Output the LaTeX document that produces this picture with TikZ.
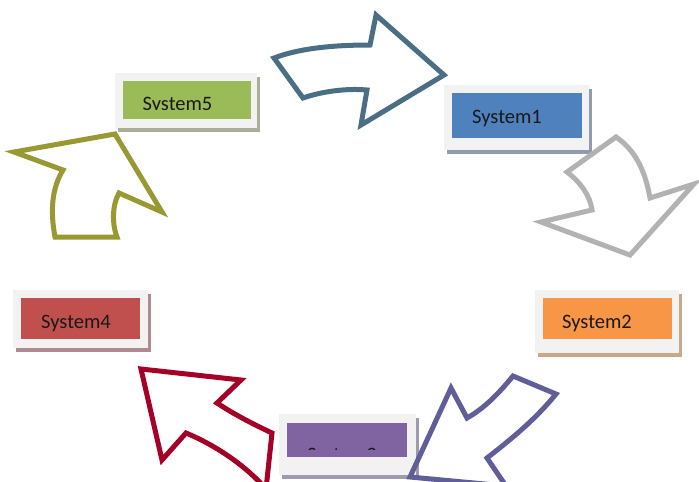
\documentclass[tikz,border=0pt]{standalone}
\usepackage{fontspec}
\newfontfamily\sysfont{Carlito}
\usetikzlibrary{shadows}
\definecolor{panelgray}{HTML}{F2F2F2}
\definecolor{sysblue}{HTML}{4F81BD}
\definecolor{sysorange}{HTML}{F79646}
\definecolor{syspurple}{HTML}{8064A2}
\definecolor{sysred}{HTML}{C0504D}
\definecolor{sysgreen}{HTML}{9BBB59}
\definecolor{blueshade}{HTML}{8E9BB0}
\definecolor{orangeshade}{HTML}{C9A88A}
\definecolor{purpleshade}{HTML}{A09AAE}
\definecolor{redshade}{HTML}{B08A90}
\definecolor{greenshade}{HTML}{A9AF9A}
\definecolor{slatearrow}{HTML}{4A6E84}
\definecolor{grayarrow}{HTML}{B2B2B2}
\definecolor{purplearrow}{HTML}{605E98}
\definecolor{redarrow}{HTML}{A50026}
\definecolor{olivearrow}{HTML}{999933}
\begin{document}
\begin{tikzpicture}[x=1pt,y=-1pt,
    panel/.style={fill=panelgray,inner sep=0pt,
      drop shadow={shadow xshift=2.5pt,shadow yshift=-3.5pt,fill=#1,opacity=1}},
    sysbox/.style={inner sep=0pt},
    syslabel/.style={anchor=base west,inner sep=0pt,text=black!90,
      font=\sysfont\fontsize{20.5}{24}\selectfont},
    cyclearrow/.style={line width=5pt,line join=miter}]
    \useasboundingbox (0,0) rectangle (699,482);
    \clip (0,0) rectangle (699,482);
    \node[panel=blueshade,minimum width=145pt,minimum height=65pt] (p1) at (516.5,117.5) {};
    \node[sysbox,fill=sysblue,minimum width=130pt,minimum height=45pt] (b1) at (517,115.5) {};
    \node[syslabel] (t1) at (472,123) {System1};
    \node[panel=orangeshade,minimum width=144pt,minimum height=63pt] (p2) at (607,321.5) {};
    \node[sysbox,fill=sysorange,minimum width=129pt,minimum height=41pt] (b2) at (607.5,318.5) {};
    \node[syslabel] (t2) at (562,328) {System2};
    \node[panel=purpleshade,minimum width=137pt,minimum height=61pt] (p3) at (347.5,444.5) {};
    \node[sysbox,fill=syspurple,minimum width=120pt,minimum height=34pt] (b3) at (347,440) {};
    \begin{scope}
        \clip (287,423) rectangle (407,449.3);
        \node[syslabel] (t3) at (307,461) {System3};
    \end{scope}
    \node[panel=redshade,minimum width=135pt,minimum height=58pt] (p4) at (80.5,319) {};
    \node[sysbox,fill=sysred,minimum width=119pt,minimum height=41pt] (b4) at (80.5,318.5) {};
    \node[syslabel] (t4) at (41,328) {System4};
    \node[panel=greenshade,minimum width=142pt,minimum height=55pt] (p5) at (186,100.5) {};
    \node[sysbox,fill=sysgreen,minimum width=128pt,minimum height=38pt] (b5) at (187,100) {};
    \begin{scope}
        \clip (123,81) rectangle (251,109.5);
        \node[syslabel] (t5) at (142.5,110.5) {System5};
    \end{scope}
    \draw[cyclearrow,slatearrow] (274,58) .. controls (300,48) and (335,45) .. (370,45)
        -- (376,15) -- (444,75) -- (361,125) -- (367,90)
        .. controls (345,88) and (320,92) .. (303,98) -- cycle;
    \draw[cyclearrow,grayarrow] (616,137) -- (567,172)
        .. controls (580,182) and (590,195) .. (592,210)
        -- (541,222) -- (630,255) -- (694,184) -- (650,198)
        .. controls (645,170) and (635,150) .. cycle;
    \draw[cyclearrow,purplearrow] (513,376) -- (556,394)
        .. controls (535,420) and (510,440) .. (487,458)
        -- (506,486) -- (410,477) -- (451,388) -- (467,418)
        .. controls (485,408) and (500,392) .. cycle;
    \draw[cyclearrow,redarrow] (141,369) -- (241,380) -- (217,403)
        .. controls (235,415) and (255,425) .. (272,433) -- (266,489)
        .. controls (245,465) and (215,445) .. (186,433)
        -- (162,460) -- cycle;
    \draw[cyclearrow,olivearrow] (115,134) -- (162,212) -- (119,193)
        .. controls (112,205) and (112,225) .. (117,237) -- (55,237)
        .. controls (50,210) and (52,188) .. (63,170) -- (14,152) -- cycle;
\end{tikzpicture}
\end{document}
